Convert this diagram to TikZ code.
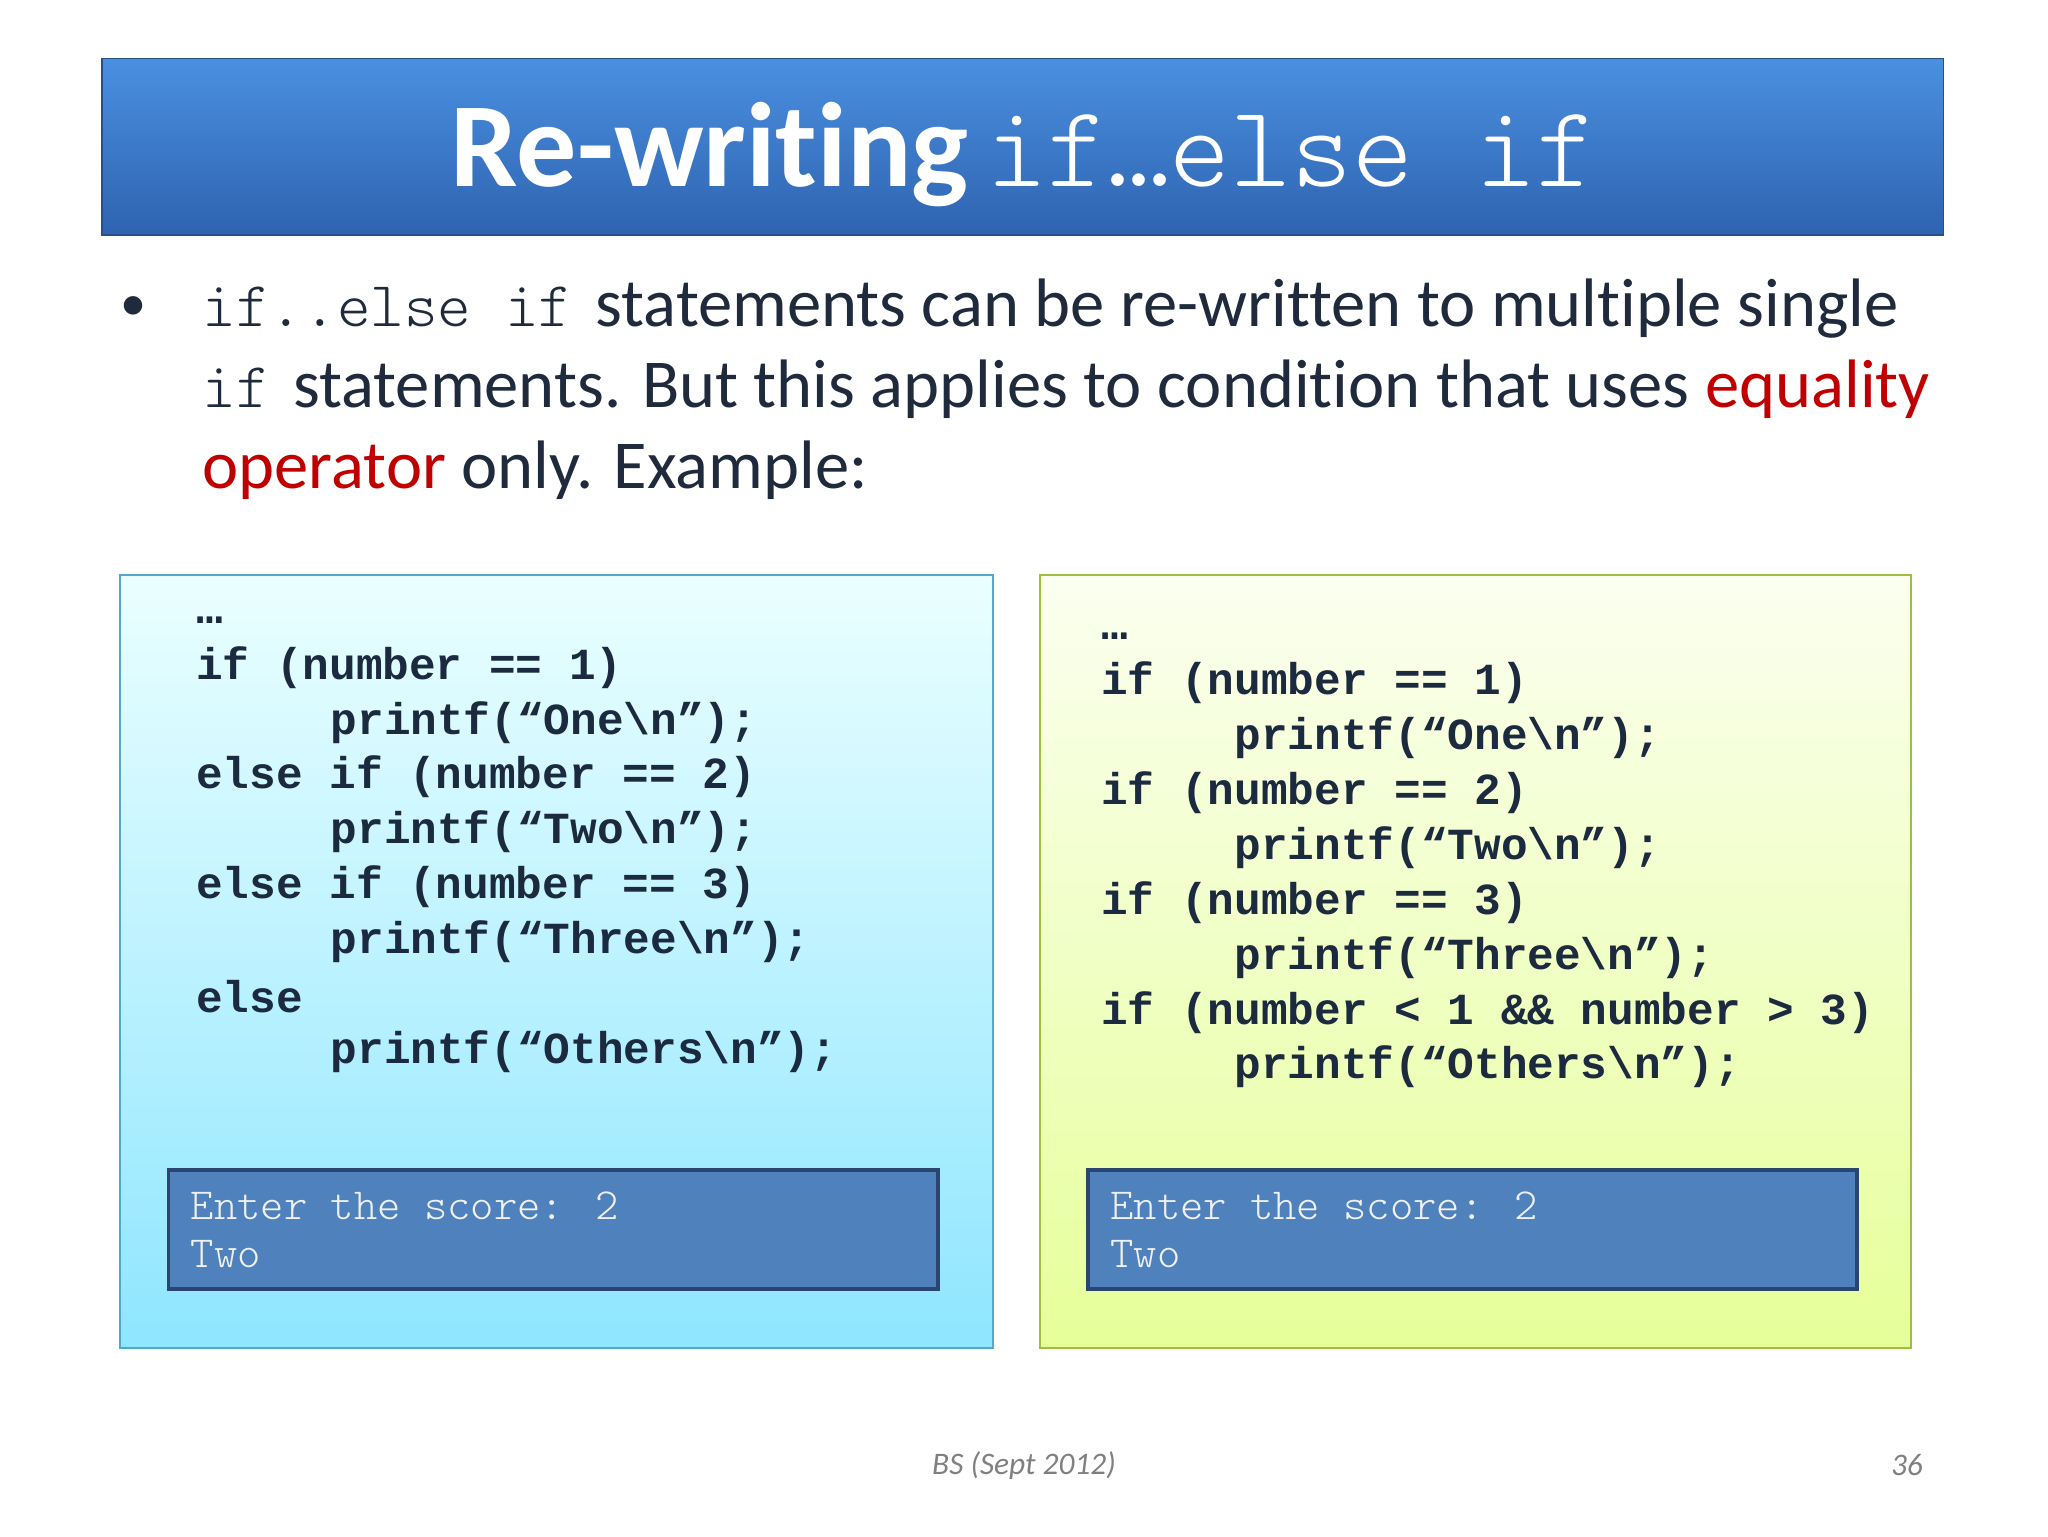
\documentclass[tikz,border=0pt]{standalone}
\usepackage{fontspec}
\setmainfont{Carlito}[Ligatures=NoCommon]
\setmonofont{Liberation Mono}
\newfontfamily\cour{Latin Modern Mono Light}
\definecolor{ttl1}{HTML}{4A90E0}
\definecolor{ttl2}{HTML}{2E63B0}
\definecolor{txt}{HTML}{1F2A3C}
\definecolor{red1}{HTML}{C00000}
\definecolor{codec}{HTML}{1C2A40}
\definecolor{outf}{HTML}{4F81BD}
\definecolor{outb}{HTML}{2A4670}
\begin{document}
\begin{tikzpicture}[x=1pt,y=-1pt,
  code/.style={anchor=west,inner sep=0pt,font=\fontsize{34}{40}\selectfont\ttfamily\bfseries,text=codec},
  outtxt/.style={anchor=west,inner sep=0pt,font=\fontsize{34}{38}\selectfont\cour,text=white!88!gray},
  outbox/.style={draw=outb,line width=3pt,fill=outf}]
\useasboundingbox (0,0) rectangle (1568,1176);
\fill[white] (0,0) rectangle (1568,1176);
% title
\shade[top color=ttl1,bottom color=ttl2,draw=ttl2!80!black,line width=1pt] (78,45) rectangle (1488,180);
\node[anchor=center,inner sep=0pt,text=white] (title) at (784,118)
 {\fontsize{92}{100}\selectfont\bfseries Re-writing\hspace{14pt}\fontsize{89}{96}\selectfont\cour\mdseries if…else if};
% bullet
\node[anchor=west,inner sep=0pt,text=txt,font=\fontsize{40}{40}\selectfont] (bul) at (92,236) {•};
\node[anchor=west,inner sep=0pt,text=txt,font=\fontsize{52.5}{62}\selectfont] (l1) at (155,236)
 {{\fontsize{49}{50}\selectfont\cour if..else if}\hspace{6pt} statements can be re-written to multiple single};
\node[anchor=west,inner sep=0pt,text=txt,font=\fontsize{52.5}{62}\selectfont] (l2) at (155,298)
 {{\fontsize{49}{50}\selectfont\cour if}\hspace{6pt} statements. But this applies to condition that uses \textcolor{red1}{equality}};
\node[anchor=west,inner sep=0pt,text=txt,font=\fontsize{52.5}{62}\selectfont] (l3) at (155,360)
 {\textcolor{red1}{operator} only. Example:};
% boxes
\shade[top color=cyan!8!white,bottom color=cyan!38!white!90!blue,draw=cyan!60!gray,line width=1.5pt] (92,440) rectangle (760,1032);
\shade[top color=lime!6!white,bottom color=lime!40!white,draw=lime!50!gray,line width=1.5pt] (796,440) rectangle (1463,1032);
% left code
\node[code] (a0) at (150,475) {…};
\node[code] (a1) at (150,511) {if (number == 1)};
\node[code] (a2) at (253,553) {printf(“One\textbackslash n”);};
\node[code] (a3) at (150,595) {else if (number == 2)};
\node[code] (a4) at (253,637) {printf(“Two\textbackslash n”);};
\node[code] (a5) at (150,679) {else if (number == 3)};
\node[code] (a6) at (253,721) {printf(“Three\textbackslash n”);};
\node[code] (a7) at (150,763) {else};
\node[code] (a8) at (253,805) {printf(“Others\textbackslash n”);};
% right code
\node[code] (b0) at (843,487) {…};
\node[code] (b1) at (843,523) {if (number == 1)};
\node[code] (b2) at (945,565) {printf(“One\textbackslash n”);};
\node[code] (b3) at (843,607) {if (number == 2)};
\node[code] (b4) at (945,649) {printf(“Two\textbackslash n”);};
\node[code] (b5) at (843,691) {if (number == 3)};
\node[code] (b6) at (945,733) {printf(“Three\textbackslash n”);};
\node[code] (b7) at (843,775) {if (number < 1 \&\& number > 3)};
\node[code] (b8) at (945,817) {printf(“Others\textbackslash n”);};
% outputs
\draw[outbox] (129,896) rectangle (718,987);
\node[outtxt] (o1) at (146,923) {Enter the score: 2};
\node[outtxt] (o2) at (146,960) {Two};
\draw[outbox] (833,896) rectangle (1422,987);
\node[outtxt] (p1) at (850,923) {Enter the score: 2};
\node[outtxt] (p2) at (850,960) {Two};
% footer
\node[inner sep=0pt,text=gray,font=\fontsize{24}{28}\selectfont\itshape] (f1) at (784,1122) {BS (Sept 2012)};
\node[inner sep=0pt,text=gray,font=\fontsize{24}{28}\selectfont\itshape] (f2) at (1460,1122) {36};
\end{tikzpicture}
\end{document}
